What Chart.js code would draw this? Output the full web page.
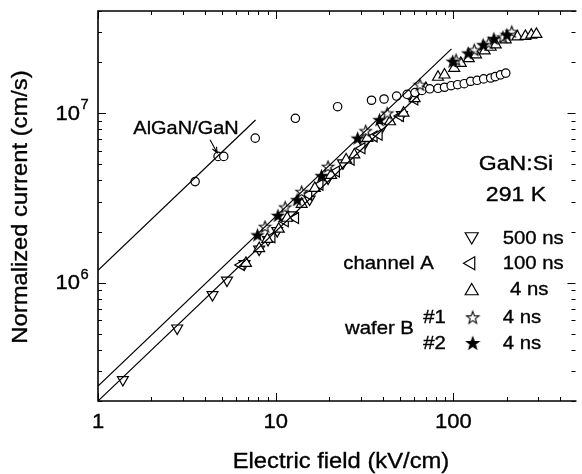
<!DOCTYPE html>
<html>
<head>
<meta charset="utf-8">
<script src="https://cdn.jsdelivr.net/npm/chart.js@4.4.0/dist/chart.umd.min.js"></script>
<style>
  body { margin: 0; background: #fff; }
  canvas { display: block; }
</style>
</head>
<body>
<canvas id="chart" width="582" height="474"></canvas>
<script>
// AlGaN/GaN (open circles)
const alganX = [3.52, 4.74, 5.10, 7.67, 12.9, 22.3, 34.6, 40.7, 47.9, 54.9, 60.8, 66.5, 73.6, 81.9, 89.1, 97.1, 105.6, 115, 125, 136, 148, 162, 172, 184, 197];
const alganY = [3.94e6, 5.55e6, 5.55e6, 7.11e6, 9.31e6, 1.09e7, 1.19e7, 1.21e7, 1.26e7, 1.29e7, 1.32e7, 1.36e7, 1.39e7, 1.40e7, 1.42e7, 1.45e7, 1.47e7, 1.49e7, 1.54e7, 1.56e7, 1.59e7, 1.61e7, 1.64e7, 1.68e7, 1.72e7];

// channel A, 500 ns (down triangles)
const ns500X = [1.38, 2.79, 4.41, 5.32, 6.67, 8.07, 9.05, 10.2, 12.3, 15.5, 19.7, 23.9, 31.4, 39.8, 51.3];
const ns500Y = [2.67e5, 5.38e5, 8.46e5, 1.03e6, 1.29e6, 1.57e6, 1.79e6, 2.02e6, 2.5e6, 3.1e6, 4.13e6, 5.07e6, 6.5e6, 8.34e6, 9.78e6];

// channel A, 100 ns (left triangles)
const ns100X = [6.38, 9.5, 11.3, 12.9, 15.3, 17.7, 21.9, 26.5, 30.5, 35.7, 38.1, 50.2, 60.5];
const ns100Y = [1.27e6, 1.85e6, 2.3e6, 2.4e6, 3.29e6, 3.77e6, 4.52e6, 5.3e6, 6.2e6, 7.28e6, 7.45e6, 9.6e6, 1.2e7];

// channel A, 4 ns (up triangles)
const ns4X = [6.80, 8.07, 8.97, 10.4, 11.6, 14.0, 16.6, 20.5, 24.9, 27.7, 32.8, 44, 52.4, 60.5, 70, 81.9, 89.1, 101, 110, 122, 134, 150, 162, 173, 197, 229, 254, 274, 293];
const ns4Y = [1.30e6, 1.59e6, 1.80e6, 2.07e6, 2.4e6, 2.9e6, 3.6e6, 4.3e6, 5.3e6, 5.67e6, 7.11e6, 8.9e6, 1.0e7, 1.22e7, 1.4e7, 1.63e7, 1.68e7, 1.84e7, 1.97e7, 2.1e7, 2.21e7, 2.33e7, 2.45e7, 2.53e7, 2.71e7, 2.82e7, 2.84e7, 2.89e7, 2.92e7];

// wafer B #1, 4 ns (open stars)
const waferB1X = [8.71, 11.3, 14.0, 19.7, 32.1, 42.4, 64.8, 103.5, 131, 158, 190, 213];
const waferB1Y = [2.14e6, 2.79e6, 3.44e6, 4.84e6, 7.86e6, 1.0e7, 1.47e7, 2.06e7, 2.36e7, 2.59e7, 2.81e7, 3.02e7];

// wafer B #2, 4 ns (filled stars)
const waferB2X = [7.90, 10.3, 13.2, 18.1, 28.9, 38.4, 99.1, 121, 147, 169, 200];
const waferB2Y = [1.91e6, 2.49e6, 3.08e6, 4.27e6, 7.11e6, 9.13e6, 2.02e7, 2.26e7, 2.53e7, 2.75e7, 2.90e7];

// straight fits (end points)
const fitAlganX = [1, 7.7];
const fitAlganY = [1.18e6, 9.1e6];
const fitUpperX = [1, 97.5];
const fitUpperY = [2.45e5, 2.39e7];
const fitLowerX = [1, 64.8];
const fitLowerY = [2.0e5, 1.3e7];

// axes
const xTickValues = [1, 10, 100];
const xTickLabels = ['1', '10', '100'];
const yTickValues = [1e6, 1e7];
const yTickExps = ['6', '7'];

const FONT = '"Liberation Sans", Arial, Helvetica, sans-serif';

function toPoints(xs, ys)
{
	return xs.map((x, i) => ({ x: x, y: ys[i] }));
}

function makeStar(r, filled)
{
	const size = Math.ceil(r * 2 + 3);
	const c = document.createElement('canvas');
	c.width = size;
	c.height = size;
	const g = c.getContext('2d');
	const cx = size / 2, cy = size / 2 + 0.6;
	g.beginPath();
	for(let i = 0; i < 10; i++)
	{
		const rr = i % 2 ? r * 0.42 : r;
		const a = -Math.PI / 2 + i * Math.PI / 5;
		g.lineTo(cx + rr * Math.cos(a), cy + rr * Math.sin(a));
	}
	g.closePath();
	g.fillStyle = filled ? '#000' : '#fff';
	g.fill();
	g.lineWidth = 1.1;
	g.strokeStyle = '#000';
	g.stroke();
	return c;
}

const starOpen = makeStar(6, false);
const starFilled = makeStar(6, true);
const starOpenBig = makeStar(6.5, false);
const starFilledBig = makeStar(6.5, true);

function fitLine(xs, ys)
{
	return {
		data: toPoints(xs, ys),
		showLine: true,
		pointRadius: 0,
		borderColor: '#000',
		borderWidth: 1.2,
		order: 0
	};
}

function markers(xs, ys, style, radius, rotation, order)
{
	return {
		data: toPoints(xs, ys),
		showLine: false,
		pointStyle: style,
		pointRadius: radius,
		pointRotation: rotation,
		backgroundColor: '#fff',
		borderColor: '#000',
		pointBorderWidth: 1.2,
		order: order
	};
}

function txt(ctx, s, x, y, size, align, sx, baseline)
{
	ctx.save();
	ctx.translate(x, y);
	ctx.scale(sx, 1);
	ctx.font = size + 'px ' + FONT;
	ctx.fillStyle = '#000';
	ctx.strokeStyle = '#000';
	ctx.lineWidth = 0.35;
	ctx.textAlign = align;
	ctx.textBaseline = baseline || 'middle';
	ctx.fillText(s, 0, 0);
	ctx.strokeText(s, 0, 0);
	ctx.restore();
}

function drawMarker(ctx, style, x, y, r, rot)
{
	if(Chart.helpers && Chart.helpers.drawPoint)
	{
		ctx.save();
		ctx.fillStyle = '#fff';
		ctx.strokeStyle = '#000';
		ctx.lineWidth = 1.2;
		Chart.helpers.drawPoint(ctx, { pointStyle: style, radius: r, rotation: rot, borderWidth: 1.2 }, x, y);
		ctx.restore();
	}
}

const framePlugin = {
	id: 'frame',
	afterDatasetsDraw(chart)
	{
		const ctx = chart.ctx, a = chart.chartArea;
		const xs = chart.scales.x, ys = chart.scales.y;
		ctx.save();
		ctx.strokeStyle = '#000';

		// ticks
		ctx.lineWidth = 1;
		ctx.beginPath();
		for(let d = 1; d <= 100; d *= 10)
			for(let m = 1; m <= 9; m++)
			{
				const v = m * d;
				if(v > xs.max) break;
				const px = Math.round(xs.getPixelForValue(v)) + 0.5;
				const len = m == 1 ? 8 : 4;
				ctx.moveTo(px, a.bottom); ctx.lineTo(px, a.bottom - len);
				ctx.moveTo(px, a.top); ctx.lineTo(px, a.top + len);
			}
		for(let d = 1e5; d <= 1e7; d *= 10)
			for(let m = 1; m <= 9; m++)
			{
				const v = m * d;
				if(v < ys.min || v > ys.max) continue;
				const py = Math.round(ys.getPixelForValue(v)) + 0.5;
				const len = m == 1 ? 8 : 4;
				ctx.moveTo(a.left, py); ctx.lineTo(a.left + len, py);
				ctx.moveTo(a.right + 1, py); ctx.lineTo(a.right + 1 - len, py);
			}
		ctx.stroke();

		// frame
		ctx.lineWidth = 1.6;
		ctx.beginPath();
		ctx.moveTo(a.right + 2, a.top);
		ctx.lineTo(a.left, a.top);
		ctx.lineTo(a.left, a.bottom);
		ctx.lineTo(a.right + 2, a.bottom);
		ctx.stroke();

		// arrow to the AlGaN/GaN data
		const x0 = xs.getPixelForValue(4.27), y0 = ys.getPixelForValue(6.95e6);
		const x1 = xs.getPixelForValue(4.68), y1 = ys.getPixelForValue(5.83e6);
		const ang = Math.atan2(y1 - y0, x1 - x0);
		ctx.lineWidth = 1.1;
		ctx.beginPath();
		ctx.moveTo(x0, y0); ctx.lineTo(x1, y1);
		ctx.moveTo(x1 - 6 * Math.cos(ang - 0.4), y1 - 6 * Math.sin(ang - 0.4));
		ctx.lineTo(x1, y1);
		ctx.lineTo(x1 - 6 * Math.cos(ang + 0.4), y1 - 6 * Math.sin(ang + 0.4));
		ctx.stroke();
		ctx.restore();

		// tick labels
		xTickValues.forEach((v, i) => txt(ctx, xTickLabels[i], xs.getPixelForValue(v), 422, 20, 'center', 1.1));
		yTickValues.forEach((v, i) =>
		{
			const py = ys.getPixelForValue(v);
			txt(ctx, '10', 80, py + 1, 20, 'right', 1.1);
			txt(ctx, yTickExps[i], 80.5, py - 7.5, 14, 'left', 1.05);
		});

		// axis titles
		txt(ctx, 'Electric field (kV/cm)', 341, 468, 22, 'center', 1.08, 'alphabetic');
		ctx.save();
		ctx.translate(21, 207);
		ctx.rotate(-Math.PI / 2);
		txt(ctx, 'Normalized current (cm/s)', 0, 0, 22, 'center', 1.08);
		ctx.restore();

		// annotations
		txt(ctx, 'AlGaN/GaN', 186, 128.5, 19, 'center', 1.05);
		txt(ctx, 'GaN:Si', 516, 164, 21, 'center', 1.1);
		txt(ctx, '291 K', 516, 195, 21, 'center', 1.1);

		// legend
		drawMarker(ctx, 'triangle', 471.7, 236.5, 7.5, 180);
		drawMarker(ctx, 'triangle', 471, 263.3, 7.5, -90);
		drawMarker(ctx, 'triangle', 471.7, 291, 7.5, 0);
		ctx.drawImage(starOpenBig, 472.7 - starOpenBig.width / 2, 317.3 - starOpenBig.height / 2);
		ctx.drawImage(starFilledBig, 472.7 - starFilledBig.width / 2, 343 - starFilledBig.height / 2);
		txt(ctx, '500 ns', 502.7, 238.3, 19, 'left', 1.07);
		txt(ctx, 'channel A', 343.3, 263.3, 19, 'left', 1.07);
		txt(ctx, '100 ns', 502.7, 263.3, 19, 'left', 1.07);
		txt(ctx, '4 ns', 510, 289.3, 19, 'left', 1.07);
		txt(ctx, '#1', 423.3, 317.3, 19, 'left', 1.07);
		txt(ctx, '4 ns', 502.7, 317.3, 19, 'left', 1.07);
		txt(ctx, 'wafer B', 345, 329, 19, 'left', 1.07);
		txt(ctx, '#2', 423.3, 343.3, 19, 'left', 1.07);
		txt(ctx, '4 ns', 502.7, 343.3, 19, 'left', 1.07);
	}
};

new Chart(document.getElementById('chart').getContext('2d'),
{
	type: 'scatter',
	data:
	{
		datasets:
		[
			fitLine(fitAlganX, fitAlganY),
			fitLine(fitUpperX, fitUpperY),
			fitLine(fitLowerX, fitLowerY),
			markers(waferB2X, waferB2Y, starFilled, 6, 0, 1),
			markers(waferB1X, waferB1Y, starOpen, 6, 0, 1),
			markers(alganX, alganY, 'circle', 4.2, 0, 2),
			markers(ns4X, ns4Y, 'triangle', 6.3, 0, 3),
			markers(ns100X, ns100Y, 'triangle', 6.3, -90, 3),
			markers(ns500X, ns500Y, 'triangle', 6.3, 180, 3)
		]
	},
	options:
	{
		responsive: false,
		animation: false,
		devicePixelRatio: 1,
		layout: { padding: { left: 98, top: 11, right: 0, bottom: 73 } },
		plugins: { legend: { display: false }, tooltip: { enabled: false } },
		scales:
		{
			x: { type: 'logarithmic', min: 1, max: 480, display: false },
			y: { type: 'logarithmic', min: 2e5, max: 4e7, display: false }
		}
	},
	plugins: [framePlugin]
});
</script>
</body>
</html>
